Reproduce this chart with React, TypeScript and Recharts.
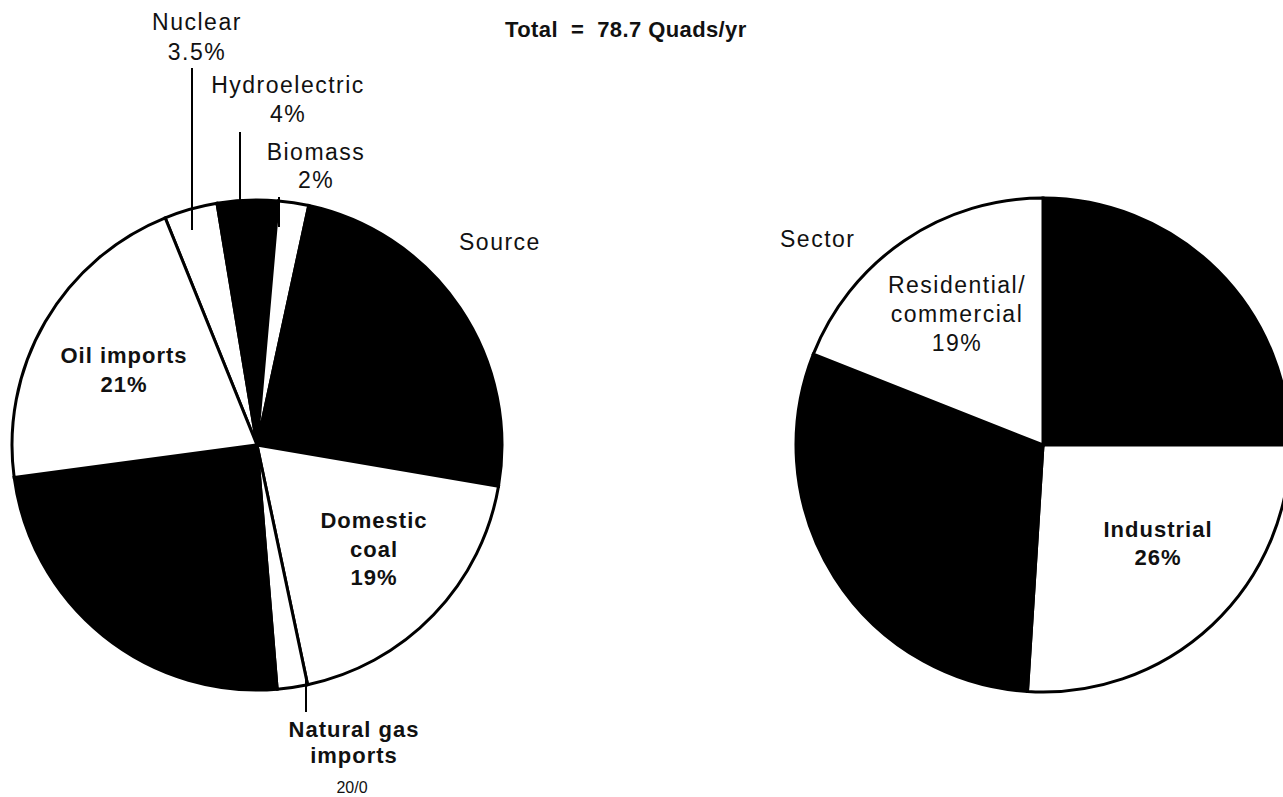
import { Cell, Customized, Pie, PieChart } from "recharts";

// energy source shares, % of 78.7 quads/yr (clockwise from Nuclear)
const sourceNames = [
  "Nuclear",
  "Hydroelectric",
  "Biomass",
  "Domestic oil",
  "Domestic coal",
  "Natural gas imports",
  "Domestic natural gas",
  "Oil imports",
];
const sourceShares = [3.5, 4, 2, 24.3, 19, 2, 24.2, 21];

// end-use sector shares, % (clockwise from 12 o'clock)
const sectorNames = ["Electric utilities", "Industrial", "Transportation", "Residential/commercial"];
const sectorShares = [25, 26, 30, 19];

const darkSlices = new Set(["Hydroelectric", "Domestic oil", "Domestic natural gas", "Electric utilities", "Transportation"]);

const sourceData = sourceNames.map((name, i) => ({ name, value: sourceShares[i] }));
const sectorData = sectorNames.map((name, i) => ({ name, value: sectorShares[i] }));

const FONT = "'Liberation Sans', Arial, Helvetica, sans-serif";
const INK = "#000";

type Label = {
  lines: string[];
  x: number;
  y: number[];
  bold?: boolean;
  note?: [string, number, number]; // small trailing line: text, x, y
  leader?: [number, number, number];
};

// label placement per slice name
const labels: Record<string, Label> = {
  Nuclear: { lines: ["Nuclear", "3.5%"], x: 197, y: [30, 60], leader: [192, 68, 230] },
  Hydroelectric: { lines: ["Hydroelectric", "4%"], x: 288, y: [93, 122], leader: [240, 132, 203] },
  Biomass: { lines: ["Biomass", "2%"], x: 316, y: [160, 188], leader: [279, 197, 227] },
  "Oil imports": { lines: ["Oil imports", "21%"], x: 124, y: [363, 392], bold: true },
  "Domestic coal": { lines: ["Domestic", "coal", "19%"], x: 374, y: [528, 557, 585], bold: true },
  "Natural gas imports": {
    lines: ["Natural gas", "imports"],
    x: 354,
    y: [737, 763],
    bold: true,
    note: ["20/0", 352, 793],
    leader: [306, 675, 712],
  },
  "Residential/commercial": { lines: ["Residential/", "commercial", "19%"], x: 957, y: [293, 322, 351] },
  Industrial: { lines: ["Industrial", "26%"], x: 1158, y: [537, 565], bold: true },
};

function SliceLabel(props: any) {
  const name = props?.payload?.name ?? props?.name;
  const l = labels[name];
  if (!l) return null;
  return (
    <g fontFamily={FONT} fill="#111">
      {l.lines.map((t, i) => (
        <text
          key={t}
          x={l.x}
          y={l.y[i]}
          textAnchor="middle"
          fontSize={l.bold ? 22 : 23}
          fontWeight={l.bold ? "bold" : "normal"}
          letterSpacing={l.bold ? 1 : 1.5}
          stroke="none"
          fill="#111"
        >
          {t}
        </text>
      ))}
      {l.note && (
        <text x={l.note[1]} y={l.note[2]} textAnchor="middle" fontSize={16} stroke="none" fill="#111">
          {l.note[0]}
        </text>
      )}
      {l.leader && (
        <line x1={l.leader[0]} x2={l.leader[0]} y1={l.leader[1]} y2={l.leader[2]} stroke={INK} strokeWidth={2} />
      )}
    </g>
  );
}

function Titles() {
  return (
    <g fontFamily={FONT} fill="#111">
      <text x={505} y={37} fontSize={22} fontWeight="bold" letterSpacing={0.4} style={{ whiteSpace: "pre" }}>
        {"Total  =  78.7 Quads/yr"}
      </text>
      <text x={459} y={250} fontSize={23} letterSpacing={1.5}>
        Source
      </text>
      <text x={780} y={247} fontSize={23} letterSpacing={1.5}>
        Sector
      </text>
    </g>
  );
}

export default function App() {
  return (
    <div style={{ position: "absolute", left: 0, top: 0, width: 1283, height: 797, background: "#fff", overflow: "hidden" }}>
      <PieChart width={1283} height={797} margin={{ top: 0, right: 0, bottom: 0, left: 0 }}>
        <Customized component={<Titles />} />
        <Pie
          data={sourceData}
          dataKey="value"
          nameKey="name"
          cx={257}
          cy={445}
          outerRadius={245}
          startAngle={112}
          endAngle={-248}
          stroke={INK}
          strokeWidth={3}
          label={SliceLabel}
          labelLine={false}
          isAnimationActive={false}
        >
          {sourceData.map((d) => (
            <Cell key={d.name} fill={darkSlices.has(d.name) ? INK : "#fff"} />
          ))}
        </Pie>
        <Pie
          data={sectorData}
          dataKey="value"
          nameKey="name"
          cx={1043}
          cy={445}
          outerRadius={247}
          startAngle={90}
          endAngle={-270}
          stroke={INK}
          strokeWidth={3}
          label={SliceLabel}
          labelLine={false}
          isAnimationActive={false}
        >
          {sectorData.map((d) => (
            <Cell key={d.name} fill={darkSlices.has(d.name) ? INK : "#fff"} />
          ))}
        </Pie>
      </PieChart>
    </div>
  );
}
